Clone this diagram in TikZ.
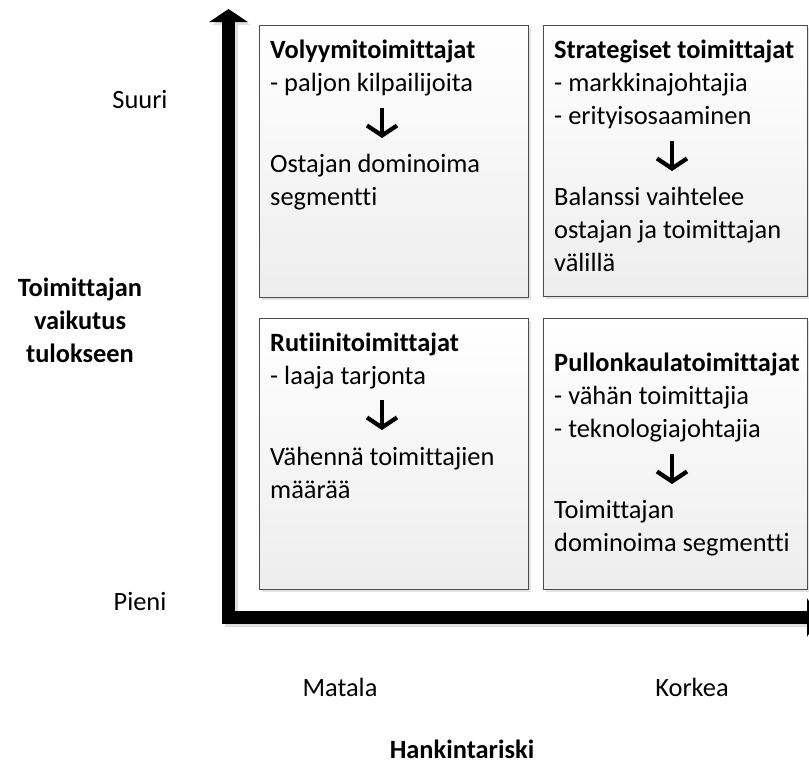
\documentclass[tikz,border=0pt]{standalone}
\usepackage{fontspec}
\setmainfont[Ligatures=NoCommon]{Carlito}
\usetikzlibrary{arrows.meta, shadows}

\tikzset{
  quadbox/.style={draw=gray!60!black, line width=0.8pt, top color=white, bottom color=gray!14,
    anchor=north west, inner sep=0pt,
    general shadow={fill=gray!22, shadow xshift=3pt, shadow yshift=-3pt}},
  txt/.style={anchor=north west, inner sep=0pt, align=left, font=\fontsize{26.4}{33}\selectfont},
  lbl/.style={anchor=base, inner sep=0pt, font=\fontsize{26.4}{33}\selectfont},
  downarr/.style={line width=4.2pt, -{Straight Barb[length=10pt, width=30pt]}},
  axisbar/.style={line width=13pt, line join=miter,
    {Triangle[length=13pt, width=38pt]}-{Triangle[length=13pt, width=38pt]}},
}

\begin{document}
\begin{tikzpicture}[x=1pt, y=-1pt]
        \useasboundingbox (0,0) rectangle (809,769);
        \clip (0,0) rectangle (809,769);

        % Axes
        \coordinate (ytop) at (228.5,9);
        \coordinate (origin) at (228.5,617.5);
        \coordinate (xend) at (820,617.5);
        \draw[axisbar, gray!25, transform canvas={xshift=3pt, yshift=-3pt}] (ytop) -- (origin) -- (xend);
        \draw[axisbar] (ytop) -- (origin) -- (xend);

        % Quadrants
        \node[quadbox, minimum width=269pt, minimum height=272pt] (volyymi) at (259,25) {};
        \node[quadbox, minimum width=264pt, minimum height=271pt] (strateg) at (543,25) {};
        \node[quadbox, minimum width=269pt, minimum height=271pt] (rutiini) at (259,318) {};
        \node[quadbox, minimum width=264pt, minimum height=271pt] (pullon) at (543,318) {};

        % Texts in quadrants
        \node[txt] (volyymiA) at (270,34.9) {\strut\textbf{Volyymitoimittajat}\\- paljon kilpailijoita};
        \node[txt] (volyymiB) at (270,148.9) {\strut Ostajan dominoima\\segmentti};
        \node[txt] (strategA) at (554,34.9) {\strut\textbf{Strategiset toimittajat}\\- markkinajohtajia\\- erityisosaaminen};
        \node[txt] (strategB) at (554,181.9) {\strut Balanssi vaihtelee\\ostajan ja toimittajan\\välillä};
        \node[txt] (rutiiniA) at (270,327.9) {\strut\textbf{Rutiinitoimittajat}\\- laaja tarjonta};
        \node[txt] (rutiiniB) at (270,441.9) {\strut Vähennä toimittajien\\määrää};
        \node[txt] (pullonA) at (554,347.9) {\strut\textbf{Pullonkaulatoimittajat}\\- vähän toimittajia\\- teknologiajohtajia};
        \node[txt] (pullonB) at (554,494.9) {\strut Toimittajan\\dominoima segmentti};

        % Down arrows
        \coordinate (v1) at (382,108);  \coordinate (v2) at (382,138);
        \coordinate (s1) at (672,141);  \coordinate (s2) at (672,171);
        \coordinate (r1) at (382,400);  \coordinate (r2) at (382,430);
        \coordinate (p1) at (672,454);  \coordinate (p2) at (672,484);
        \draw[downarr] (v1) -- (v2);
        \draw[downarr] (s1) -- (s2);
        \draw[downarr] (r1) -- (r2);
        \draw[downarr] (p1) -- (p2);

        % Axis labels
        \node[lbl] (suuri) at (140,108) {Suuri};
        \node[lbl] (pieni) at (140,610) {Pieni};
        \node[anchor=north, inner sep=0pt, align=center, font=\fontsize{26.4}{33}\selectfont\bfseries] (vaikutus) at (80,272.9) {\strut Toimittajan\\vaikutus\\tulokseen};
        \node[lbl] (matala) at (340,696) {Matala};
        \node[lbl] (korkea) at (692,696) {Korkea};
        \node[lbl, font=\fontsize{26.4}{33}\selectfont\bfseries] (riski) at (462,758) {Hankintariski};
    \end{tikzpicture}
\end{document}
